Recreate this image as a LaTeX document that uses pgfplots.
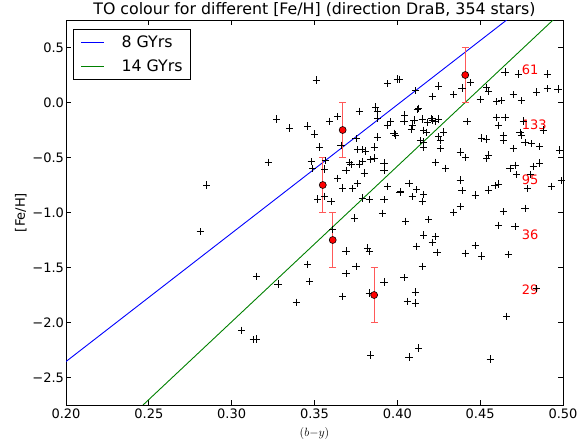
\documentclass[border=0pt]{standalone}
\usepackage{fontspec}
\setmainfont{DejaVu Sans}
\usepackage{pgfplots}
\pgfplotsset{compat=1.18}

\definecolor{mplgreen}{rgb}{0,0.5,0}
\definecolor{barred}{rgb}{1,0.35,0.35}

\begin{document}
\begin{tikzpicture}
\useasboundingbox (0,0) rectangle (582bp,448bp);
\begin{axis}[
    at={(66bp,43bp)}, anchor=south west,
    scale only axis, width=497bp, height=385bp,
    xmin=0.20, xmax=0.50, ymin=-2.75, ymax=0.75,
    xtick={0.20,0.25,0.30,0.35,0.40,0.45,0.50},
    xticklabels={0.20,0.25,0.30,0.35,0.40,0.45,0.50},
    ytick={-2.5,-2,-1.5,-1,-0.5,0,0.5},
    yticklabels={−2.5,−2.0,−1.5,−1.0,−0.5,0.0,0.5},
    tick align=inside,
    major tick length=5bp,
    tick style={black, line width=0.8bp},
    axis line style={line width=0.8bp},
    ticklabel style={font=\fontsize{13bp}{15bp}\selectfont},
    yticklabel style={xshift=1.5bp},
    every axis title shift=0pt,
    title={TO colour for different [Fe/H] (direction DraB, 354 stars)},
    title style={font=\fontsize{15.8bp}{18bp}\selectfont, at={(0.5,1.026)}, anchor=center},
    xlabel={$(b{-}y)$},
    xlabel style={font=\fontsize{13bp}{15bp}\selectfont, at={(axis description cs:0.5,-0.073)}, anchor=center},
    ylabel={[Fe/H]},
    ylabel style={font=\fontsize{13bp}{15bp}\selectfont, at={(axis description cs:-0.091,0.5)}, anchor=center},
    legend cell align=left,
    legend image code/.code={\draw[#1] (0bp,0bp) -- (23bp,0bp);},
    legend style={at={(0.0147,0.976)}, anchor=north west, draw=black, line width=0.8bp,
        font=\fontsize{15.8bp}{18bp}\selectfont, inner xsep=7bp, inner ysep=4bp, row sep=7bp,
        nodes={inner xsep=1bp},
        /tikz/every odd column/.append style={column sep=16bp}},
]
% isochrone lines
\addplot[blue, line width=0.9bp] coordinates {(0.200,-2.355) (0.466,0.75)};
\addplot[mplgreen, line width=0.9bp] coordinates {(0.2465,-2.75) (0.494,0.75)};
\legend{8 GYrs, 14 GYrs}

% stars
\addplot[only marks, mark=+, mark size=3.6bp, black, line width=0.8bp, forget plot] table {
x y
0.351 0.205
0.394 0.171
0.400 0.214
0.327 -0.150
0.335 -0.232
0.346 -0.214
0.350 -0.286
0.353 -0.405
0.359 -0.171
0.364 -0.129
0.377 -0.080
0.387 -0.041
0.388 -0.077
0.388 -0.147
0.394 -0.211
0.396 -0.174
0.398 -0.280
0.399 -0.295
0.388 -0.314
0.386 -0.405
0.375 -0.329
0.376 -0.430
0.379 -0.430
0.381 -0.440
0.366 -0.389
0.465 0.277
0.473 0.259
0.4905 0.259
0.401 0.211
0.444 0.180
0.425 0.150
0.439 0.132
0.411 0.107
0.454 0.138
0.455 0.105
0.421 0.056
0.434 0.074
0.484 0.095
0.4905 0.125
0.497 0.123
0.450 0.029
0.460 0.007
0.463 0.016
0.470 0.071
0.475 0.016
0.412 -0.062
0.413 -0.053
0.4045 -0.114
0.404 -0.174
0.410 -0.159
0.415 -0.150
0.4205 -0.147
0.421 -0.159
0.4247 -0.150
0.418 -0.180
0.423 -0.174
0.409 -0.205
0.4085 -0.244
0.416 -0.253
0.4175 -0.271
0.428 -0.268
0.442 -0.174
0.460 -0.135
0.465 -0.135
0.461 -0.207
0.476 -0.168
0.474 -0.271
0.475 -0.295
0.488 -0.250
0.414 -0.347
0.416 -0.359
0.425 -0.311
0.426 -0.347
0.426 -0.420
0.416 -0.411
0.438 -0.450
0.451 -0.323
0.454 -0.332
0.464 -0.302
0.464 -0.344
0.477 -0.365
0.481 -0.374
0.486 -0.402
0.470 -0.417
0.498 -0.432
0.322 -0.544
0.348 -0.538
0.349 -0.598
0.3565 -0.529
0.356 -0.605
0.371 -0.544
0.372 -0.565
0.377 -0.559
0.379 -0.538
0.384 -0.520
0.386 -0.505
0.392 -0.550
0.380 -0.641
0.392 -0.614
0.369 -0.617
0.364 -0.689
0.367 -0.777
0.373 -0.784
0.376 -0.738
0.394 -0.762
0.4016 -0.817
0.352 -0.877
0.356 -0.853
0.360 -0.902
0.379 -0.868
0.383 -0.884
0.392 -0.884
0.391 -1.007
0.374 -1.050
0.361 -1.153
0.369 -1.350
0.382 -1.323
0.383 -1.353
0.346 -1.471
0.375 -1.489
0.369 -1.556
0.315 -1.580
0.392 -1.632
0.285 -0.750
0.281 -1.174
0.4413 -0.498
0.454 -0.507
0.455 -0.477
0.423 -0.544
0.429 -0.598
0.468 -0.598
0.471 -0.571
0.472 -0.656
0.482 -0.580
0.486 -0.550
0.4805 -0.656
0.4785 -0.780
0.493 -0.762
0.499 -0.711
0.407 -0.735
0.402 -0.811
0.4115 -0.793
0.409 -0.856
0.416 -0.838
0.415 -0.898
0.438 -0.705
0.439 -0.802
0.447 -0.841
0.455 -0.795
0.459 -0.756
0.461 -0.741
0.434 -0.998
0.438 -0.947
0.464 -0.992
0.477 -0.962
0.405 -1.080
0.419 -1.065
0.461 -1.116
0.471 -1.126
0.416 -1.205
0.423 -1.217
0.421 -1.271
0.4115 -1.307
0.424 -1.362
0.441 -1.371
0.447 -1.302
0.451 -1.395
0.467 -1.383
0.415 -1.489
0.404 -1.593
0.328 -1.650
0.347 -1.626
0.339 -1.816
0.367 -1.762
0.383 -1.732
0.306 -2.071
0.313 -2.156
0.315 -2.150
0.384 -2.295
0.411 -1.723
0.406 -1.807
0.411 -1.823
0.484 -1.692
0.466 -1.944
0.413 -2.232
0.407 -2.314
0.456 -2.332
};

% turn-off points with error bars
\addplot[only marks, mark=*, mark size=3.5bp,
    mark options={fill=red, draw=black, line width=0.6bp}, forget plot,
    error bars/.cd, y dir=both, y explicit,
    error bar style={barred, line width=1.2bp},
    error mark options={rotate=90, barred, mark size=3.5bp, line width=1.2bp}]
coordinates {
    (0.441,0.25) +- (0,0.25)
    (0.367,-0.25) +- (0,0.25)
    (0.355,-0.75) +- (0,0.25)
    (0.361,-1.25) +- (0,0.25)
    (0.386,-1.75) +- (0,0.25)
};

% number of stars per bin
\begin{scope}[every node/.style={anchor=base west, text=red, inner sep=0pt, font=\fontsize{13bp}{15bp}\selectfont}]
\node at (axis cs:0.475,0.25) {61};
\node at (axis cs:0.475,-0.25) {133};
\node at (axis cs:0.475,-0.75) {95};
\node at (axis cs:0.475,-1.25) {36};
\node at (axis cs:0.475,-1.75) {29};
\end{scope}
\end{axis}
\end{tikzpicture}
\end{document}
